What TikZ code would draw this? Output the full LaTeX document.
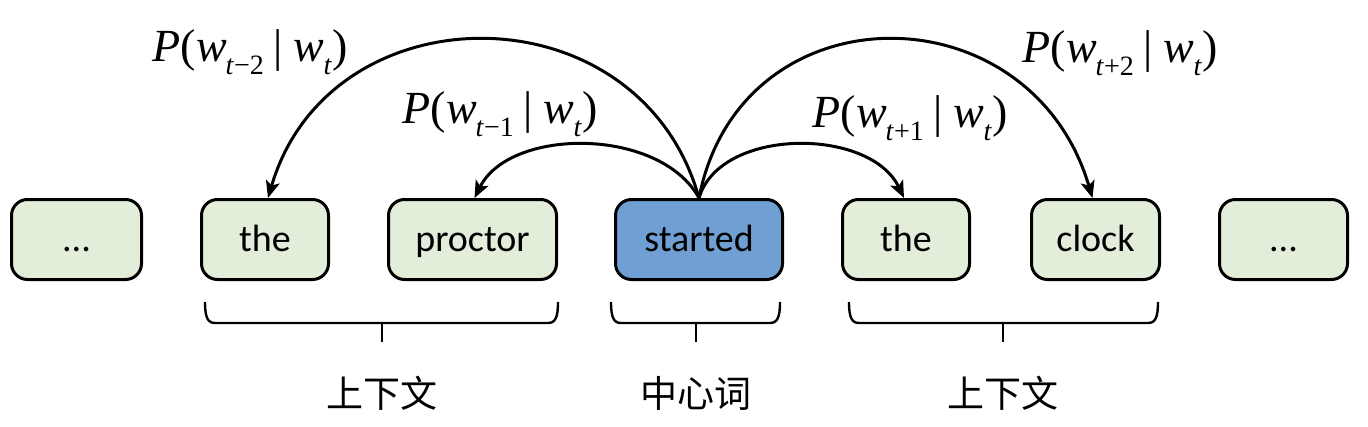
\documentclass[tikz,border=0pt]{standalone}
\usepackage{fontspec}
\setmainfont{Liberation Serif}
\newfontfamily\boxfont{Carlito}
\newfontfamily\cjk{Noto Sans CJK SC}
\usetikzlibrary{arrows.meta}
\definecolor{boxgreen}{RGB}{227,238,218}
\definecolor{boxblue}{RGB}{112,160,211}
\newcommand{\subsz}{\fontsize{28}{30}\selectfont}
\newcommand{\plabel}[2]{\fontsize{46}{50}\selectfont\textit{P}(\textit{w}\kern-1pt\raisebox{-0.28em}{\subsz\textit{t}#1#2}\kern10pt|\kern10pt\textit{w}\raisebox{-0.28em}{\subsz\textit{t}})}
\begin{document}
\begin{tikzpicture}[x=1pt,y=-1pt,
  wordbox/.style={draw, line width=3pt, rounded corners=16pt, minimum height=80pt,
    inner sep=0pt, text height=29pt, text depth=5pt,
    font=\boxfont\fontsize{38}{40}\selectfont, fill=boxgreen},
  centerbox/.style={wordbox, fill=boxblue},
  arc/.style={line width=3pt, -{Stealth[length=17pt,width=14pt,inset=4pt]}},
  brace/.style={line width=2.4pt},
  cjklabel/.style={font=\cjk\fontsize{37}{40}\selectfont, inner sep=0pt},
  problabel/.style={inner sep=0pt}]
\useasboundingbox (0,0) rectangle (1368,426);

\node[wordbox, minimum width=130pt] (d1) at (76.5,239.5) {...};
\node[wordbox, minimum width=127pt] (the1) at (265,239.5) {the};
\node[wordbox, minimum width=168pt] (proctor) at (472.5,239.5) {proctor};
\node[centerbox, minimum width=167pt] (started) at (699,239.5) {started};
\node[wordbox, minimum width=127pt] (the2) at (906,239.5) {the};
\node[wordbox, minimum width=128pt] (clock) at (1095.5,239.5) {clock};
\node[wordbox, minimum width=128pt] (d2) at (1283.5,239.5) {...};

\draw[arc] (started.north) .. controls (640,-13) and (330,-13) .. ([xshift=3pt]the1.north);
\draw[arc] (started.north) .. controls (660,127) and (510,127) .. ([xshift=2pt]proctor.north);
\draw[arc] (started.north) .. controls (720,127) and (870,127) .. ([xshift=-2pt]the2.north);
\draw[arc] (started.north) .. controls (740,-13) and (1030,-13) .. ([xshift=-3pt]clock.north);

\node[problabel] (pm2) at (250,52) {\plabel{−}{2}};
\node[problabel] (pm1) at (500,114) {\plabel{−}{1}};
\node[problabel] (pp1) at (910,118) {\plabel{+}{1}};
\node[problabel] (pp2) at (1120,53) {\plabel{+}{2}};

\draw[brace] (205,302) .. controls (205,318) and (208,323) .. (215,323) -- (548,323) .. controls (555,323) and (558,318) .. (558,302);
\draw[brace] (382,323) -- (382,342);
\draw[brace] (611,302) .. controls (611,318) and (614,323) .. (621,323) -- (770,323) .. controls (777,323) and (780,318) .. (780,302);
\draw[brace] (696,323) -- (696,342);
\draw[brace] (849,302) .. controls (849,318) and (852,323) .. (859,323) -- (1148,323) .. controls (1155,323) and (1158,318) .. (1158,302);
\draw[brace] (1003,323) -- (1003,342);

\node[cjklabel] (ctx1) at (382,393) {上下文};
\node[cjklabel] (cw) at (696,393) {中心词};
\node[cjklabel] (ctx2) at (1003,393) {上下文};
\end{tikzpicture}
\end{document}
